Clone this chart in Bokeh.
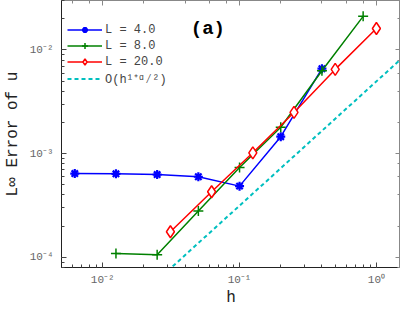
from bokeh.plotting import figure
from bokeh.models import LogAxis, Label, Legend, LegendItem, CustomJSTickFormatter, Range1d
from bokeh.embed import file_html
from bokeh.resources import INLINE

# data
h4 = [0.00625, 0.0125, 0.025, 0.05, 0.1, 0.2, 0.4]
e4 = [6.44e-4, 6.4e-4, 6.3e-4, 6.0e-4, 4.87e-4, 1.46e-3, 6.6e-3]
h8 = [0.0125, 0.025, 0.05, 0.1, 0.2, 0.4, 0.8]
e8 = [1.09e-4, 1.06e-4, 2.81e-4, 7.35e-4, 1.8e-3, 6.3e-3, 2.11e-2]
h20 = [0.03125, 0.0625, 0.125, 0.25, 0.5, 1.0]
e20 = [1.77e-4, 4.3e-4, 1.02e-3, 2.5e-3, 6.5e-3, 1.61e-2]
h_ref = [0.025, 1.5]
e_ref = [6.0e-5, 8.1e-3]

FONT = "Liberation Mono"

p = figure(frame_width=339, frame_height=267, x_axis_type="log", y_axis_type="log",
           x_range=Range1d(0.005, 1.5), y_range=Range1d(8e-5, 0.03),
           output_backend="svg", toolbar_location=None,
           min_border_left=0, min_border_right=0, min_border_top=0, min_border_bottom=0)
p.grid.visible = False
p.outline_line_color = "#888888"
p.background_fill_color = "white"

fmt = CustomJSTickFormatter(code="""
const e = Math.round(Math.log10(tick));
const sup = {'-':'\u207b','0':'\u2070','1':'\u00b9','2':'\u00b2','3':'\u00b3','4':'\u2074','5':'\u2075','6':'\u2076','7':'\u2077','8':'\u2078','9':'\u2079'};
return '10' + String(e).split('').map(c => sup[c]).join('');
""")
blank = CustomJSTickFormatter(code="return '';")

for ax in [p.xaxis[0], p.yaxis[0]]:
    ax.formatter = fmt
    ax.major_tick_in = 5
    ax.major_tick_out = 0
    ax.minor_tick_in = 3
    ax.minor_tick_out = 0
    ax.major_label_text_font = FONT
    ax.major_label_text_font_size = "11px"
    ax.major_label_text_color = "#666666"
    ax.axis_label_text_font = FONT
    ax.axis_label_text_font_size = "16px"
    ax.axis_label_text_font_style = "normal"
    ax.axis_label_text_color = "#222222"
    ax.axis_line_color = "#222222"
    ax.major_tick_line_color = "#444444"
    ax.minor_tick_line_color = "#444444"
p.xaxis.axis_label = "h"
p.yaxis.axis_label = "L\u221e Error of u"
p.xaxis.axis_label_standoff = 0
p.yaxis.axis_label_standoff = 5
p.xaxis.major_label_standoff = 6
p.yaxis.major_label_standoff = 8

for loc in ["right", "above"]:
    ax = LogAxis(major_tick_in=5, major_tick_out=0, minor_tick_in=3, minor_tick_out=0,
                 formatter=blank, axis_line_color="#888888",
                 major_tick_line_color="#888888", minor_tick_line_color="#888888",
                 major_label_standoff=0)
    p.add_layout(ax, loc)

r4l = p.line(h4, e4, color="#0000ff", line_width=1.5)
r4m = p.scatter(h4, e4, marker="asterisk", size=9, line_color="#0000ff", line_width=2.2)
r8l = p.line(h8, e8, color="#008000", line_width=1.5)
r8m = p.scatter(h8, e8, marker="cross", size=10, line_color="#008000", line_width=1.5)
r20l = p.line(h20, e20, color="#ff0000", line_width=1.5)
r20m = p.scatter(h20, e20, marker="diamond", size=12, line_color="#ff0000", fill_color="white", line_width=1.5)
rref = p.line(h_ref, e_ref, color="#00bfbf", line_width=2, line_dash="4 3")

legend = Legend(items=[
    LegendItem(label="L = 4.0", renderers=[r4l, r4m]),
    LegendItem(label="L = 8.0", renderers=[r8l, r8m]),
    LegendItem(label="L = 20.0", renderers=[r20l, r20m]),
    LegendItem(label="O(h\u00b9\u207a\u1d45\u2044\u00b2)", renderers=[rref]),
], location=(6, 180))
legend.border_line_color = None
legend.background_fill_alpha = 0
legend.label_text_font = FONT
legend.label_text_font_size = "12px"
legend.label_text_color = "#444444"
legend.glyph_width = 35
legend.glyph_height = 15
legend.label_height = 15
legend.label_standoff = 3
legend.spacing = 1
legend.margin = 0
legend.padding = 4
p.add_layout(legend)

p.add_layout(Label(x=0.044, y=0.016, text="(a)", text_baseline="middle",
                   text_font=FONT, text_font_style="bold", text_font_size="19px",
                   text_color="black"))

open("out.html", "w").write(file_html(p, INLINE))
